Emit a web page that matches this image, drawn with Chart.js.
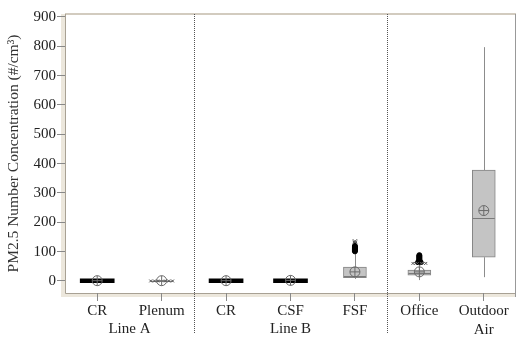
<!DOCTYPE html>
<html>
<head>
<meta charset="utf-8">
<script src="https://cdn.jsdelivr.net/npm/chart.js@4"></script>
<style>
    html, body { margin: 0; padding: 0; background: #fff; }
    #wrap { width: 530px; height: 350px; }
</style>
</head>
<body>
<div id="wrap"><canvas id="boxChart" width="530" height="350"></canvas></div>
<script>
// Chart data
const categories = ['CR', 'Plenum', 'CR', 'CSF', 'FSF', 'Office', ['Outdoor', 'Air']];
const groupNames = ['Line A', 'Line B'];
const groupSpans = [[0, 1], [2, 4]];
const yTicks = [0, 100, 200, 300, 400, 500, 600, 700, 800, 900];

// box stats per category
const q1 = [0, 0, 0, 0, 11, 20, 81];
const q3 = [2, 1, 2, 3, 47, 37, 378];
const medians = [1, 0, 1, 1, 18, 28, 215];
const means = [1, 1, 1, 2, 31, 31, 240];
const whiskerLow = [0, 0, 0, 0, 7, 3, 13];
const whiskerHigh = [4, 1, 4, 6, 99, 60, 797];

// dense outlier bands (drawn as black bars)
const denseLow = [-6, null, -6, -6, null, null, null];
const denseHigh = [7, null, 7, 7, null, null, null];

// individual outliers: [category index, offset, value]
const plenumOutliers = [[1, -0.17, 0], [1, -0.11, 0], [1, -0.06, 0], [1, 0.06, 0], [1, 0.11, 0], [1, 0.17, 0]];
const fsfOutliers = [[4, 0, 101], [4, 0, 104], [4, 0, 107], [4, 0, 110], [4, 0, 113], [4, 0, 116], [4, 0, 119]];
const fsfFar = [[4, 0, 125], [4, 0, 130], [4, 0, 135]];
const officeOutliers = [[5, 0, 64], [5, 0, 67], [5, 0, 70], [5, 0, 73], [5, 0, 76], [5, 0, 79], [5, 0, 82], [5, 0, 85], [5, 0, 88],
    [5, -0.02, 64], [5, 0.02, 64]];
const officeBase = [[5, -0.1, 60], [5, -0.06, 60], [5, -0.03, 60], [5, 0.03, 60], [5, 0.06, 60], [5, 0.1, 60]];

const FONT = '"Liberation Serif", "Times New Roman", serif';
const toPts = arr => arr.map(p => ({ x: p[0] + p[1], y: p[2] }));
const meanPts = means.map((m, i) => ({ x: i, y: m }));

// Frame, dividers, whiskers, medians, group labels
const boxPlugin = {
    id: 'boxPlugin',
    beforeDraw(chart) {
        const { ctx, chartArea: a } = chart;
        ctx.save();
        ctx.fillStyle = '#fff';
        ctx.fillRect(0, 0, chart.width, chart.height);
        // beige frame band
        ctx.fillStyle = '#ece7dc';
        ctx.fillRect(a.left - 4, a.top, 4, a.bottom - a.top + 4);
        ctx.fillRect(a.left - 4, a.bottom, a.right - a.left + 4, 4);
        ctx.fillStyle = '#d2cbbf';
        ctx.fillRect(a.left, a.top - 1, a.right - a.left, 2);
        ctx.strokeStyle = '#a8a194';
        ctx.lineWidth = 1;
        ctx.beginPath();
        ctx.moveTo(a.left + 0.5, a.top);
        ctx.lineTo(a.left + 0.5, a.bottom + 0.5);
        ctx.lineTo(a.right, a.bottom + 0.5);
        ctx.stroke();
        ctx.strokeStyle = '#999';
        ctx.beginPath();
        ctx.moveTo(a.right - 0.5, a.top);
        ctx.lineTo(a.right - 0.5, a.bottom + 4);
        ctx.stroke();
        ctx.restore();
    },
    beforeDatasetsDraw(chart) {
        const { ctx, chartArea: a } = chart;
        const x = chart.scales.x, y = chart.scales.y;
        ctx.save();
        // dotted group dividers
        ctx.strokeStyle = '#555';
        ctx.setLineDash([1, 1]);
        [1, 4].forEach(i => {
            const px = Math.round((x.getPixelForValue(i) + x.getPixelForValue(i + 1)) / 2) + 0.5;
            ctx.beginPath();
            ctx.moveTo(px, a.top);
            ctx.lineTo(px, 333);
            ctx.stroke();
        });
        ctx.setLineDash([]);
        // whiskers
        ctx.strokeStyle = '#8c8c8c';
        ctx.lineWidth = 1;
        categories.forEach((c, i) => {
            const px = Math.round(x.getPixelForValue(i)) + 0.5;
            ctx.beginPath();
            ctx.moveTo(px, y.getPixelForValue(whiskerLow[i]));
            ctx.lineTo(px, y.getPixelForValue(q1[i]));
            ctx.moveTo(px, y.getPixelForValue(q3[i]));
            ctx.lineTo(px, y.getPixelForValue(whiskerHigh[i]));
            ctx.stroke();
        });
        ctx.restore();
    },
    afterDatasetDraw(chart, args) {
        if (args.index !== 1) return;
        const { ctx } = chart;
        const x = chart.scales.x, y = chart.scales.y;
        ctx.save();
        ctx.strokeStyle = '#7a7a7a';
        ctx.lineWidth = 1;
        categories.forEach((c, i) => {
            if (denseLow[i] !== null) return;
            const px = x.getPixelForValue(i);
            const py = Math.round(y.getPixelForValue(medians[i])) + 0.5;
            ctx.beginPath();
            ctx.moveTo(px - 11, py);
            ctx.lineTo(px + 11, py);
            ctx.stroke();
        });
        ctx.restore();
    },
    afterDraw(chart) {
        const { ctx } = chart;
        const x = chart.scales.x;
        ctx.save();
        ctx.fillStyle = '#222';
        ctx.font = '15px ' + FONT;
        ctx.textAlign = 'center';
        ctx.textBaseline = 'middle';
        groupNames.forEach((g, k) => {
            const [s, e] = groupSpans[k];
            const px = (x.getPixelForValue(s) + x.getPixelForValue(e)) / 2;
            ctx.fillText(g, px, 329);
        });
        ctx.restore();
    }
};

function setupChart() {
    const ctx = document.getElementById('boxChart').getContext('2d');
    new Chart(ctx, {
        type: 'bar',
        data: {
            labels: categories,
            datasets: [
                {
                    // dense outlier band
                    data: denseLow.map((v, i) => v === null ? null : [v, denseHigh[i]]),
                    backgroundColor: '#000',
                    borderWidth: 0,
                    barThickness: 34,
                    grouped: false,
                    order: 3
                },
                {
                    // boxes q1..q3
                    data: q1.map((v, i) => [v, q3[i]]),
                    backgroundColor: q1.map((v, i) => denseLow[i] !== null ? 'rgba(0,0,0,0)' : '#c4c4c4'),
                    borderColor: q1.map((v, i) => denseLow[i] !== null ? 'rgba(0,0,0,0)' : '#858585'),
                    borderWidth: 1,
                    borderSkipped: false,
                    barThickness: 23,
                    grouped: false,
                    order: 4
                },
                {
                    type: 'line',
                    xAxisID: 'x2',
                    data: toPts(plenumOutliers).concat(toPts(officeBase)),
                    showLine: false,
                    pointStyle: 'crossRot',
                    pointRadius: 2,
                    borderColor: '#555',
                    borderWidth: 1,
                    order: 2
                },
                {
                    type: 'line',
                    xAxisID: 'x2',
                    data: toPts(fsfOutliers).concat(toPts(officeOutliers)),
                    showLine: false,
                    pointStyle: 'circle',
                    pointRadius: 2.5,
                    backgroundColor: '#000',
                    borderColor: '#000',
                    borderWidth: 1,
                    order: 2
                },
                {
                    type: 'line',
                    xAxisID: 'x2',
                    data: toPts(fsfFar),
                    showLine: false,
                    pointStyle: 'crossRot',
                    pointRadius: 3,
                    borderColor: '#444',
                    borderWidth: 1,
                    order: 2
                },
                {
                    // mean marker: circle
                    type: 'line',
                    xAxisID: 'x2',
                    data: meanPts,
                    showLine: false,
                    pointStyle: 'circle',
                    pointRadius: 5,
                    backgroundColor: 'rgba(0,0,0,0)',
                    borderColor: '#6a6a6a',
                    borderWidth: 1,
                    order: 1
                },
                {
                    // mean marker: plus
                    type: 'line',
                    xAxisID: 'x2',
                    data: meanPts,
                    showLine: false,
                    pointStyle: 'cross',
                    pointRadius: 5,
                    borderColor: '#6a6a6a',
                    borderWidth: 1,
                    order: 1
                }
            ]
        },
        options: {
            responsive: false,
            animation: false,
            layout: { padding: { top: 14, right: 14, left: 0, bottom: 0 } },
            plugins: {
                legend: { display: false },
                tooltip: { enabled: false }
            },
            scales: {
                x: {
                    type: 'category',
                    offset: true,
                    afterFit: s => { s.height = 57; },
                    border: { display: false },
                    grid: {
                        drawOnChartArea: false,
                        tickLength: 8,
                        color: '#888',
                        offset: false
                    },
                    ticks: {
                        color: '#222',
                        padding: 1,
                        maxRotation: 0,
                        autoSkip: false,
                        font: { family: FONT, size: 15, lineHeight: 1.25 }
                    }
                },
                x2: {
                    type: 'linear',
                    display: false,
                    offset: false,
                    min: -0.5,
                    max: 6.5
                },
                y: {
                    min: -41,
                    max: 910,
                    afterFit: s => { s.width = 65; },
                    afterBuildTicks: s => { s.ticks = yTicks.map(v => ({ value: v })); },
                    border: { display: false },
                    grid: {
                        drawOnChartArea: false,
                        tickLength: 8,
                        color: '#888'
                    },
                    ticks: {
                        color: '#222',
                        padding: 1,
                        font: { family: FONT, size: 15 }
                    },
                    title: {
                        display: true,
                        text: 'PM2.5 Number Concentration (#/cm³)',
                        color: '#333',
                        padding: { top: 5, bottom: 0 },
                        font: { family: FONT, size: 15.5 }
                    }
                }
            }
        },
        plugins: [boxPlugin]
    });
}

setupChart();
</script>
</body>
</html>
